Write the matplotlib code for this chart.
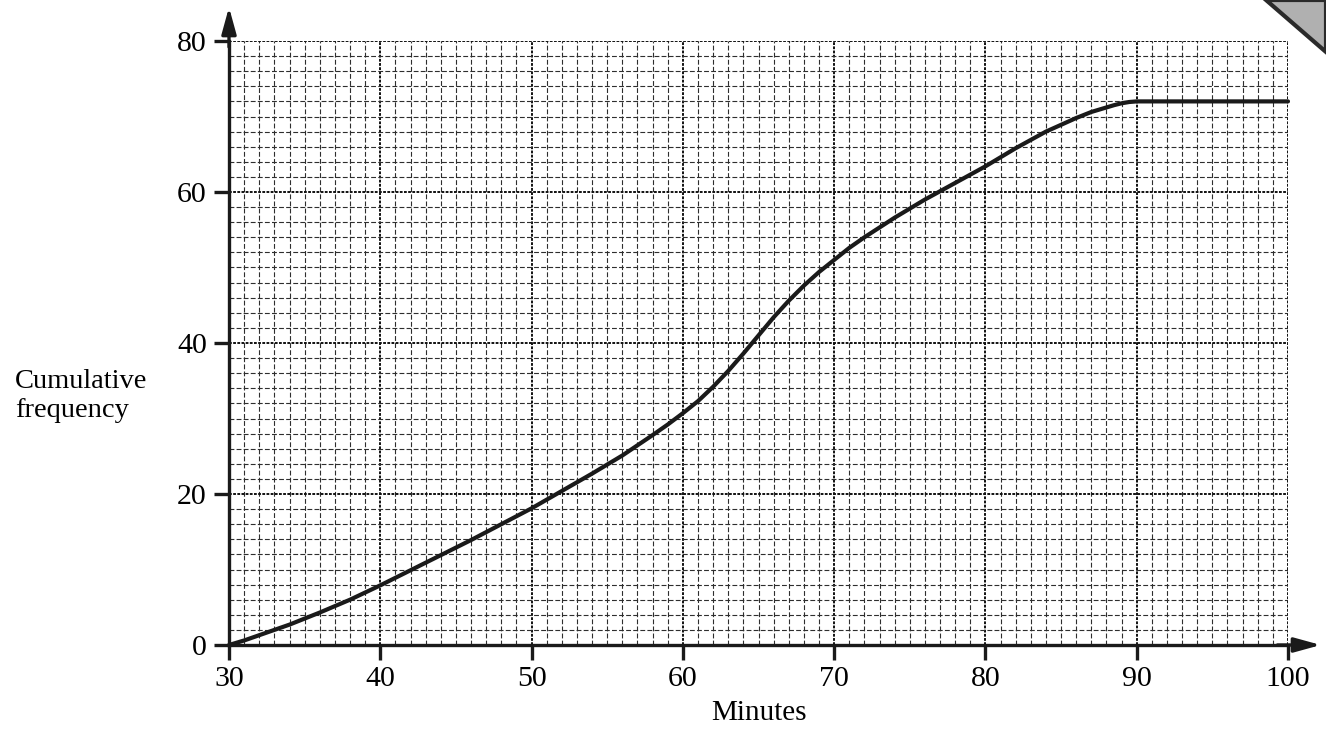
import matplotlib
matplotlib.use("Agg")
import matplotlib.pyplot as plt
from matplotlib.patches import Polygon

plt.rcParams['font.family'] = ['Liberation Serif', 'DejaVu Serif']
plt.rcParams['lines.scale_dashes'] = False

# Data (minutes vs cumulative frequency)
minutes = [30, 31, 32, 34, 36, 38, 40, 42, 44, 46, 48, 50, 52, 54, 56, 58, 59, 60, 61,
           62, 63, 64, 65, 66, 67, 68, 69, 70, 71, 72, 74, 76, 78, 80, 82, 84, 86,
           87, 88, 88.5, 89, 89.5, 90, 100]
cum_freq = [0, 0.6, 1.3, 2.7, 4.3, 6.0, 7.9, 9.9, 11.9, 13.9, 16.0, 18.1, 20.4, 22.7,
            25.1, 27.8, 29.2, 30.7, 32.3, 34.2, 36.3, 38.6, 41.0, 43.4, 45.6, 47.6,
            49.4, 51.0, 52.6, 54.0, 56.6, 59.0, 61.2, 63.4, 65.8, 68.0, 69.8, 70.6,
            71.2, 71.5, 71.75, 71.92, 72, 72]
x_ticks = [30, 40, 50, 60, 70, 80, 90, 100]
y_ticks = [0, 20, 40, 60, 80]

W, H = 1326, 742
fig = plt.figure(figsize=(W / 100, H / 100), dpi=100)
left, right, bottom, top = 229, 1288, 645, 41
ax = fig.add_axes([left / W, 1 - bottom / H, (right - left) / W, (bottom - top) / H])
ax.set_xlim(30, 100)
ax.set_ylim(0, 80)

ax.set_xticks(x_ticks)
ax.set_yticks(y_ticks)
ax.set_xticks(range(30, 101, 1), minor=True)
ax.set_yticks(range(0, 81, 2), minor=True)

ax.grid(which='minor', linestyle=(0, (3.5, 1.6)), linewidth=0.8, color='#2e2e2e')
ax.grid(which='major', linestyle=(0, (2, 1)), linewidth=1.4, color='#111111')
ax.set_axisbelow(True)

for s in ['top', 'right']:
    ax.spines[s].set_visible(False)
for s in ['left', 'bottom']:
    ax.spines[s].set_linewidth(2.4)
    ax.spines[s].set_color('#1a1a1a')
    ax.spines[s].set_zorder(5)

ax.tick_params(which='major', direction='out', length=11, width=2.4, color='#1a1a1a',
               labelsize=21.5, pad=5)
ax.tick_params(which='minor', length=0)
ax.tick_params(axis='x', pad=4)

ax.plot(minutes, cum_freq, color='#1a1a1a', linewidth=3.0, solid_capstyle='round',
        solid_joinstyle='round', zorder=4, clip_on=False)

# Axis arrows
astyle = '-|>,head_length=0.8,head_width=0.22'
ax.annotate('', xy=(1.031, 0), xytext=(0.99, 0), xycoords='axes fraction',
            arrowprops=dict(arrowstyle=astyle, lw=2.4, color='#1a1a1a',
                            mutation_scale=20, shrinkA=0, shrinkB=0),
            annotation_clip=False)
ax.annotate('', xy=(0, 1.056), xytext=(0, 0.99), xycoords='axes fraction',
            arrowprops=dict(arrowstyle=astyle, lw=2.4, color='#1a1a1a',
                            mutation_scale=20, shrinkA=0, shrinkB=0),
            annotation_clip=False)

ax.set_xlabel('Minutes', fontsize=21, labelpad=6)
fig.text(15 / W, 1 - 396 / H, 'Cumulative\nfrequency', fontsize=20.5, ha='left',
         va='center', linespacing=1.2)

# Corner decoration (pencil edge in top-right of the scan)
corner = Polygon([(1266 / W, 1.0), (1.0, 1.0), (1.0, 1 - 52 / H)], closed=True,
                 transform=fig.transFigure, facecolor='#b0b0b0', edgecolor='#2a2a2a',
                 linewidth=3)
fig.patches.append(corner)

fig.savefig('out.png', dpi=100)
